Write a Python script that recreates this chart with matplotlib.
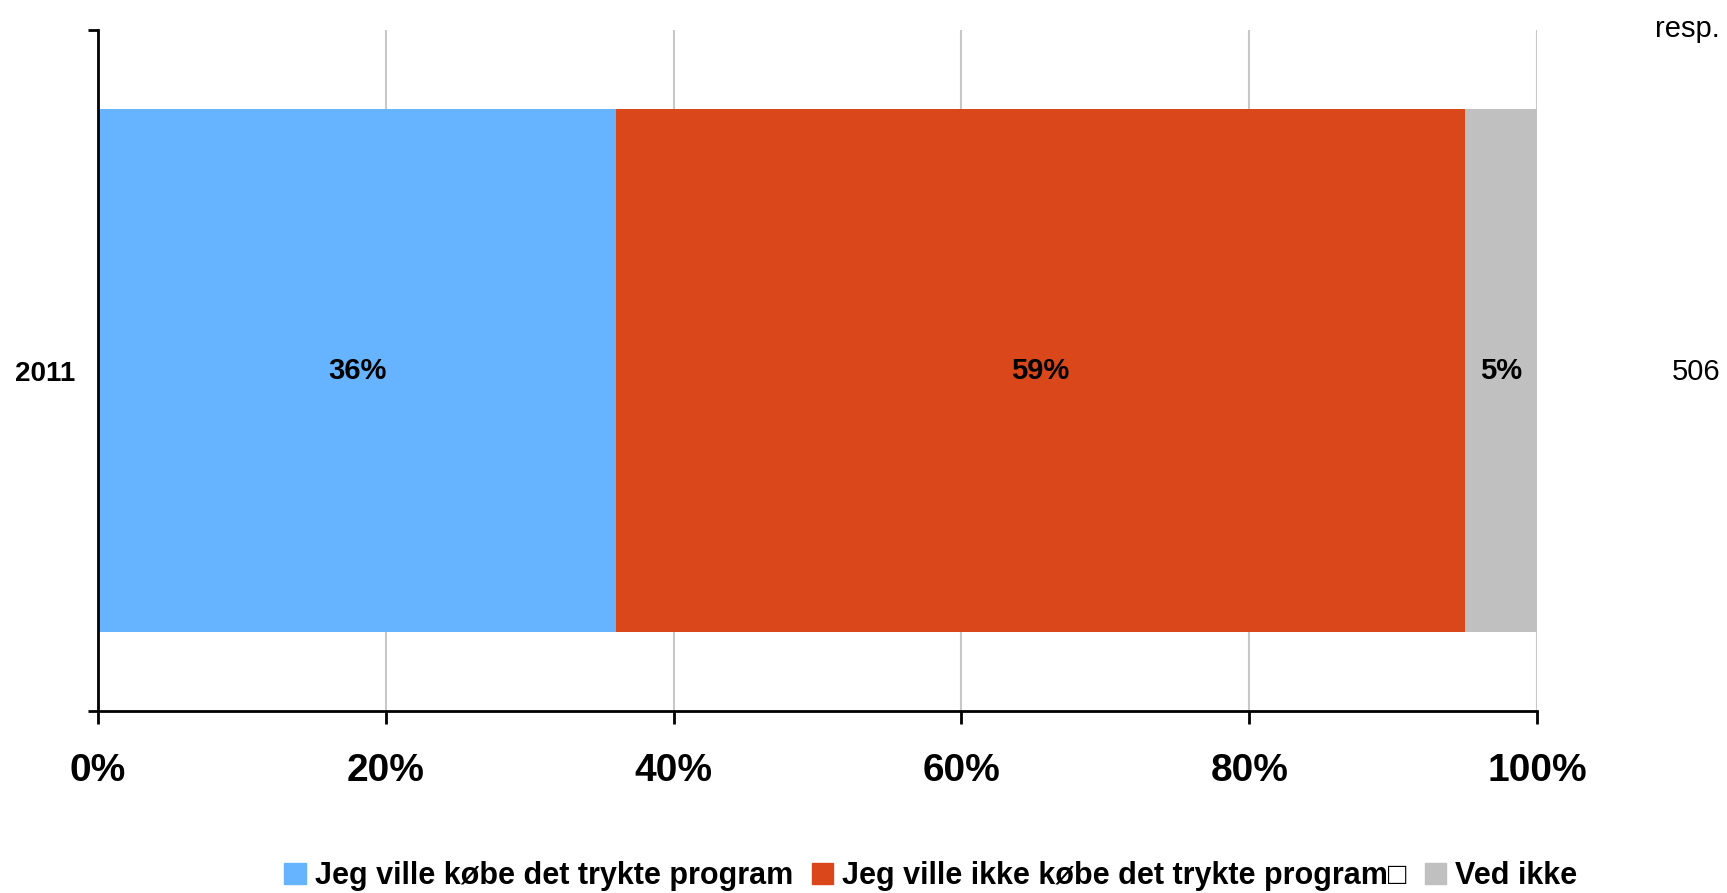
import numpy as np
from matplotlib import pyplot as plt
from matplotlib.patches import Patch

plt.rcParams['font.family'] = ['Liberation Sans', 'DejaVu Sans']

years = ['2011']
labels = ['Jeg ville købe det trykte program',
          'Jeg ville ikke købe det trykte program\u25a1',
          'Ved ikke']
values = [36, 59, 5]
resp = [506]
colors = ['#66B3FF', '#D9471A', '#C0C0C0']

fig = plt.figure(figsize=(17.27, 8.93), dpi=100)
ax = fig.add_axes([0.0567, 0.2038, 0.8333, 0.7626])

left = 0
for v, c in zip(values, colors):
    ax.barh(0, v, left=left, height=0.768, color=c, zorder=2)
    ax.text(left + v / 2, 0, '%d%%' % v, ha='center', va='center',
            fontsize=21, fontweight='bold', zorder=3)
    left += v

ax.set_xlim(0, 100)
ax.set_ylim(-0.5, 0.5)
ax.set_xticks(np.arange(0, 101, 20))
ax.set_xticklabels(['%d%%' % t for t in range(0, 101, 20)],
                   fontsize=28, fontweight='bold')
ax.tick_params(axis='x', length=9, width=2, direction='out', pad=21)
ax.set_yticks([0])
ax.set_yticklabels(years, fontsize=20, fontweight='bold')
ax.tick_params(axis='y', length=0, pad=16)
ax.set_yticks([-0.5, 0.5], minor=True)
ax.tick_params(axis='y', which='minor', length=7, width=2)
ax.grid(axis='x', color='#C8C8C8', linewidth=1.5, zorder=0)
ax.set_axisbelow(True)
for s in ['top', 'right']:
    ax.spines[s].set_visible(False)
for s in ['left', 'bottom']:
    ax.spines[s].set_linewidth(2)
    ax.spines[s].set_zorder(4)

fig.text(0.996, 0.967, 'resp.', ha='right', va='center', fontsize=21)
fig.text(0.996, 1 - 372 / 893, str(resp[0]), ha='right', va='center', fontsize=21)

handles = [Patch(color=c) for c in colors]
fig.legend(handles, labels, loc='center', bbox_to_anchor=(0.539, 0.019),
           ncol=3, frameon=False, handlelength=0.7, handleheight=0.7,
           handletextpad=0.3, columnspacing=0.6,
           prop={'size': 22, 'weight': 'bold'})

plt.savefig('out.png', dpi=100)
